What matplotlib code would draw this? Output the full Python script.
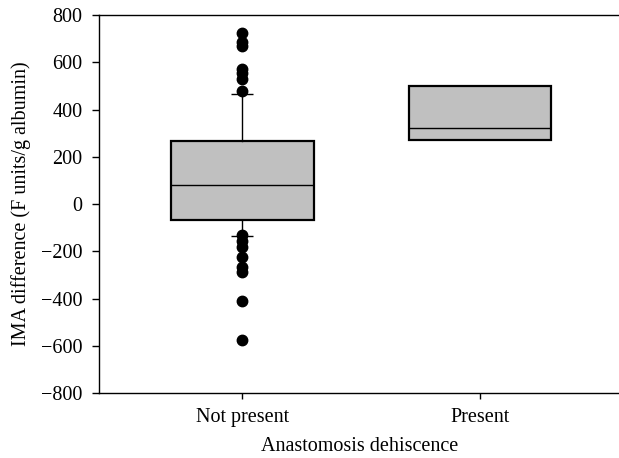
import numpy as np
import matplotlib
matplotlib.use("Agg")
import matplotlib.pyplot as plt

# group labels and box summary values
groups = ["Not present", "Present"]
q1 = [-66, 271]
med = [79, 321]
q3 = [268, 500]
whislo = [-137, 271]
whishi = [467, 500]
outliers_np = [722, 687, 669, 570, 553, 528, 478,
               -131, -155, -181, -223, -265, -287, -411, -576]
outliers_p = []

plt.rcParams["font.family"] = ["Liberation Serif", "DejaVu Serif"]

fig = plt.figure(figsize=(6.19, 4.58), dpi=100)
ax = fig.add_axes([0.1604, 0.1419, 0.8396, 0.8253])

stats = []
for i, g in enumerate(groups):
    stats.append(dict(label=g, q1=q1[i], med=med[i], q3=q3[i],
                      whislo=whislo[i], whishi=whishi[i],
                      fliers=[outliers_np, outliers_p][i]))

ax.bxp(stats, positions=[1, 2], widths=0.6, patch_artist=True,
       showcaps=False,
       boxprops=dict(facecolor="#c0c0c0", edgecolor="black", linewidth=1.6),
       medianprops=dict(color="black", linewidth=1.0),
       whiskerprops=dict(color="black", linewidth=1.0),
       flierprops=dict(marker="o", markerfacecolor="black",
                       markeredgecolor="black", markersize=7.5))

# caps only where there is a whisker (Not present)
ax.hlines([whislo[0], whishi[0]], 1 - 0.046, 1 + 0.046, color="black", linewidth=1.0)

ax.set_xlim(0.398, 2.585)
ax.set_ylim(-800, 800)
ax.set_yticks(np.arange(-800, 801, 200))
ax.set_yticklabels([f"{v}".replace("-", "\u2212") for v in range(-800, 801, 200)])
ax.set_xticks([1, 2])
ax.set_xticklabels(groups)
ax.spines["right"].set_visible(False)
for s in ["left", "top", "bottom"]:
    ax.spines[s].set_linewidth(1.0)
ax.tick_params(axis="y", direction="out", length=5, width=1, labelsize=14.5, pad=7)
ax.tick_params(axis="x", direction="out", length=4, width=1, labelsize=14.5, pad=7)
ax.set_xlabel("Anastomosis dehiscence", fontsize=14.5, labelpad=7)
ax.set_ylabel("IMA difference (F units/g albumin)", fontsize=14.5, labelpad=7)

fig.savefig("out.png", dpi=100)
